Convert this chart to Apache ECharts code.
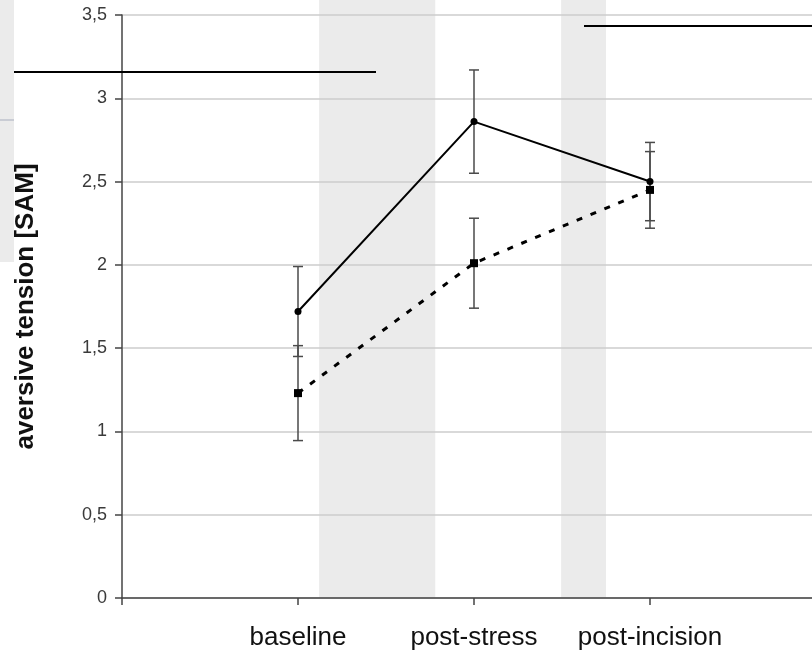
<!DOCTYPE html>
<html>
<head>
<meta charset="utf-8">
<script src="https://cdn.jsdelivr.net/npm/echarts@6/dist/echarts.min.js"></script>
<style>
  html, body { margin: 0; padding: 0; background: #fff; }
  #chart { width: 812px; height: 653px; }
</style>
</head>
<body>
<div id="chart"></div>
<script>
// Time points along the x axis (positions 0..4; 0 and 4 are unlabeled ends)
const categories = ['', 'baseline', 'post-stress', 'post-incision', ''];
// Group A (solid line): mean and error
const solidMean = [1.72, 2.86, 2.50];
const solidErr = [0.27, 0.31, 0.235];
// Group B (dotted line): mean and error
const dashedMean = [1.23, 2.01, 2.45];
const dashedErr = [0.285, 0.27, 0.23];
// Positions of the time points on the x axis
const positions = [1, 2, 3];
// Shaded intervals between time points
const bands = [[1.12, 1.78], [2.495, 2.75]];
// Y axis range and step
const yMin = 0, yMax = 3.5, yStep = 0.5;

const pts = (ys) => positions.map((x, i) => [x, ys[i]]);
const errData = (ys, es) => positions.map((x, i) => [x, ys[i] - es[i], ys[i] + es[i]]);

function renderErr(params, api) {
  const x = api.value(0);
  const lo = api.coord([x, api.value(1)]);
  const hi = api.coord([x, api.value(2)]);
  const w = 5;
  const style = { stroke: '#4a4a4a', lineWidth: 1.5 };
  return {
    type: 'group',
    children: [
      { type: 'line', shape: { x1: lo[0], y1: lo[1], x2: hi[0], y2: hi[1] }, style },
      { type: 'line', shape: { x1: lo[0] - w, y1: lo[1], x2: lo[0] + w, y2: lo[1] }, style },
      { type: 'line', shape: { x1: hi[0] - w, y1: hi[1], x2: hi[0] + w, y2: hi[1] }, style }
    ]
  };
}

const chart = echarts.init(document.getElementById('chart'), null, { renderer: 'canvas' });
const font = 'Liberation Sans, Arial, sans-serif';

chart.setOption({
  animation: false,
  backgroundColor: '#fff',
  grid: [
    { left: 122, right: -14, top: 15, bottom: 55, outerBoundsMode: 'none' },
    { left: 122, right: -14, top: 0, bottom: 55, outerBoundsMode: 'none' }
  ],
  xAxis: [
    {
      type: 'value', gridIndex: 0, min: 0, max: 4, interval: 1, z: 6,
      axisLine: { show: true, lineStyle: { color: '#444', width: 1.5 } },
      axisTick: { show: true, length: 7, lineStyle: { color: '#444', width: 1.5 } },
      splitLine: { show: false },
      axisLabel: {
        formatter: (v) => categories[Math.round(v)] || '',
        fontFamily: font, fontSize: 26, color: '#111', margin: 27
      }
    },
    { type: 'value', gridIndex: 1, min: 0, max: 4, show: false }
  ],
  yAxis: [
    {
      type: 'value', gridIndex: 0, min: yMin, max: yMax, interval: yStep, z: 6,
      name: 'aversive tension [SAM]', nameLocation: 'middle', nameGap: 83,
      nameTextStyle: { fontFamily: font, fontSize: 26, fontWeight: 'bold', color: '#111' },
      axisLine: { show: true, lineStyle: { color: '#444', width: 1.5 } },
      axisTick: { show: true, length: 7, lineStyle: { color: '#444', width: 1.5 } },
      splitLine: { show: true, lineStyle: { color: '#cdcdcd', width: 1.5 } },
      axisLabel: {
        formatter: (v) => String(v).replace('.', ','),
        fontFamily: font, fontSize: 18, color: '#3a3a3a', margin: 15
      }
    },
    { type: 'value', gridIndex: 1, min: 0, max: 1, show: false }
  ],
  series: [
    {
      type: 'line', xAxisIndex: 1, yAxisIndex: 1, data: [], z: 1,
      markArea: {
        silent: true, z: 1,
        itemStyle: { color: '#ebebeb' },
        data: bands.map(b => [{ xAxis: b[0], yAxis: 0 }, { xAxis: b[1], yAxis: 1 }])
      }
    },
    {
      type: 'line', data: pts(solidMean), symbol: 'circle', symbolSize: 7,
      lineStyle: { color: '#000', width: 2 }, itemStyle: { color: '#000' }, z: 10
    },
    {
      type: 'line', data: pts(dashedMean), symbol: 'rect', symbolSize: 8,
      lineStyle: { color: '#000', width: 3, type: [6, 9] }, itemStyle: { color: '#000' }, z: 10
    },
    { type: 'custom', renderItem: renderErr, data: errData(solidMean, solidErr), z: 9 },
    { type: 'custom', renderItem: renderErr, data: errData(dashedMean, dashedErr), z: 9 }
  ],
  graphic: [
    { type: 'rect', left: 0, top: 0, shape: { width: 14, height: 262 }, style: { fill: '#ebebeb' }, z: -10 },
    { type: 'line', shape: { x1: 0, y1: 120, x2: 14, y2: 120 }, style: { stroke: '#c9ccd4', lineWidth: 2 } },
    { type: 'line', shape: { x1: 14, y1: 72, x2: 376, y2: 72 }, style: { stroke: '#000', lineWidth: 2 }, z: 20 },
    { type: 'line', shape: { x1: 584, y1: 26, x2: 812, y2: 26 }, style: { stroke: '#000', lineWidth: 2 }, z: 20 }
  ]
});
</script>
</body>
</html>
